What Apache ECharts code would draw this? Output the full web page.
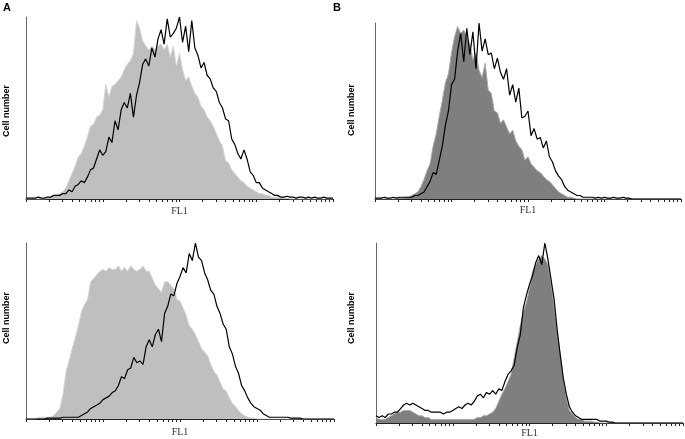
<!DOCTYPE html>
<html>
<head>
<meta charset="utf-8">
<script src="https://cdn.jsdelivr.net/npm/echarts@6/dist/echarts.min.js"></script>
<style>
html,body{margin:0;padding:0;background:#fff;}
#chart{width:685px;height:439px;}
</style>
</head>
<body>
<div id="chart"></div>
<script type="text/javascript">
// FL1 histograms, 101 bins over 4 log decades, counts scaled so panel max = 100
var aTopGray = [0,0,0,0,0,0,0,0.5,1,2,
  2,3,4,6,10,14,18,23,25,29,
  34,40,41,45,46,49,63,56,62,63,
  65,67,71,74,76,80,98,94,87,84,
  82,84,82,84,85,82,85,78,84,73,
  80,71,65,67,62,58,56,51,49,45,
  43,40,36,32,29,21,20,16,14,12,
  10,9,7,6,5,4,3,3,2,2,
  1,1,1,1,0.5,0.5,0,0,0,0,
  0,0,0,0,0,0,0,0,0,0,0];
var aTopLine = [0.5,0.5,0.5,0.5,1,0.5,0.5,1,1,2,
  2,2,3,3,5,4,7,8,10,9,
  12,16,17,22,27,24,26,34,31,43,
  38,49,53,50,58,45,57,64,74,77,
  73,83,78,88,93,85,99,89,91,94,
  100,86,95,81,98,83,79,72,75,68,
  66,61,59,53,50,44,43,33,30,25,
  22,27,22,15,13,9,9,6,5,4,
  3,2,2,1,1,1.5,1,1,0.5,1,
  1,0.5,1,0.5,1,0.5,0.5,1,0.5,0.5,0.5];
var bTopGray = [0,0,0,0,0,0,0,0,0.5,0.5,
  1,1,2,3,4,7,11,16,20,30,
  37,47,56,66,71,83,92,98,94,96,
  92,88,79,83,73,69,77,62,60,50,
  49,43,45,41,37,39,33,30,28,22,
  24,20,18,16,15,13,11,10,8,6,
  4,3,2,1,1,0.5,0,0,0,0,
  0,0,0,0,0,0,0,0,0,0,
  0,0,0,0,0,0,0,0,0,0,
  0,0,0,0,0,0,0,0,0,0,0];
var bTopLine = [0.5,0.5,0.5,1,0.5,0.5,1,0.5,1,1,
  1,1,1,2,2,3,4,7,10,15,
  14,22,30,42,50,65,68,84,94,78,
  97,82,95,74,100,84,91,82,83,74,
  80,72,68,74,59,65,55,63,46,47,
  50,36,40,34,35,29,33,24,21,16,
  13,11,7,5,4,3,2,2,1,1,
  1,1,0.5,1,0.5,1,0.5,0.5,1,0.5,
  0.5,1,0.5,0.5,0,0,0,0,0,0,
  0,0,0,0,0,0,0,0,0,0,0];
var aBotGray = [0,0,0,0,1,1,1,1,1,2,
  4,6,14,27,33,40,46,53,61,65,
  68,78,80,82,84,85,84,86,85,85,
  87,84,86,84,87,85,84,85,87,84,
  84,80,76,74,72,78,78,76,74,68,
  67,63,59,53,51,48,44,40,38,36,
  31,27,25,21,17,16,12,9,7,5,
  3,2,1,0.5,0.5,0,0,0,0,0,
  0,0,0,0,0,0,0,0,0,0,
  0,0,0,0,0,0,0,0,0,0,0];
var aBotLine = [0,0,0,0,0,0,0,0.5,0.5,0.5,
  0.5,0.5,1,1,1,1,1,1,2,3,
  4,6,7,8,9,11,12,13,15,16,
  19,24,23,28,29,35,32,33,31,41,
  45,41,48,51,44,60,64,71,70,77,
  81,86,83,94,90,100,92,90,83,79,
  73,71,64,60,54,51,41,37,30,26,
  19,16,12,9,7,6,5,3,2,1,
  1,1,1,1,1,1,0.5,0.5,0.5,0.5,
  0,0,0,0,0,0,0,0,0,0,0];
var bBotGray = [3,2,2,2,3,4,5,6,6,7,
  7,7,6,5,4,4,3,3,2,2,
  2,2,2,2,2,2,2,2,2,2,
  2,2,2,3,3,4,4,5,6,8,
  12,16,19,23,27,36,45,54,62,67,
  75,84,88,91,93,91,88,78,65,51,
  38,25,14,7,5,3,2,2,1,1,
  1,0.5,0.5,0,0,0,0,0,0,0,
  0,0,0,0,0,0,0,0,0,0,
  0,0,0,0,0,0,0,0,0,0,0];
var bBotLine = [4,3,4,3,5,5,6,6,8,10,
  11,10,11,10,9,8,7,7,6,6,
  6,6,5,6,6,7,8,9,8,10,
  11,10,12,15,16,14,17,16,18,16,
  19,18,23,27,29,32,42,49,64,71,
  77,82,89,93,88,100,91,80,69,52,
  38,25,16,9,6,4,3,2,2,2,
  2,2,2,1,1,1,0.5,0.5,0,0,
  0,0,0,0,0,0,0,0,0,0,
  0,0,0,0,0,0,0,0,0,0,0];

// log decade positions of the bins and of the axis ticks (log10 units)
var fl1Bins = [];
for (var i = 0; i <= 100; i++) fl1Bins.push(+(i * 0.04).toFixed(2));
var fl1Ticks = [];
for (var d = 0; d < 4; d++) {
  for (var k = 1; k < 10; k++) fl1Ticks.push(d + Math.log10(k));
}
fl1Ticks.push(4);

function pairs(values) {
  return values.map(function (v, i) { return [fl1Bins[i], v]; });
}

var panels = [
  {grid: {left: 26, top: 17, width: 307, height: 182}, gray: aTopGray, line: aTopLine, fill: '#bfbfbf', edge: '#d6d6d6', gap: 7},
  {grid: {left: 375, top: 23, width: 306, height: 176}, gray: bTopGray, line: bTopLine, fill: '#7f7f7f', edge: '#a8a8a8', gap: 6},
  {grid: {left: 26, top: 243, width: 308, height: 176}, gray: aBotGray, line: aBotLine, fill: '#bfbfbf', edge: '#d6d6d6', gap: 8},
  {grid: {left: 376, top: 243, width: 307, height: 180}, gray: bBotGray, line: bBotLine, fill: '#7f7f7f', edge: '#a8a8a8', gap: 5}
];

var grids = [], xAxes = [], yAxes = [], series = [];
panels.forEach(function (p, n) {
  grids.push(p.grid);
  xAxes.push({
    gridIndex: n, type: 'value', min: 0, max: 4,
    name: 'FL1', nameLocation: 'middle', nameGap: p.gap,
    nameTextStyle: {fontFamily: 'Liberation Serif', fontSize: 10, color: '#333', verticalAlign: 'top'},
    axisLine: {show: true, lineStyle: {color: '#222', width: 1}},
    axisTick: {show: true, length: 3, customValues: fl1Ticks, lineStyle: {color: '#222'}},
    axisLabel: {show: false},
    splitLine: {show: false}
  });
  yAxes.push({
    gridIndex: n, type: 'value', min: 0, max: 100,
    axisLine: {show: true, lineStyle: {color: '#666', width: 1}},
    axisTick: {show: false},
    axisLabel: {show: false},
    splitLine: {show: false}
  });
  series.push({
    type: 'line', xAxisIndex: n, yAxisIndex: n, data: pairs(p.gray),
    symbol: 'none', silent: true, z: 1,
    lineStyle: {color: p.edge, width: 1},
    areaStyle: {color: p.fill, opacity: 1}
  });
  series.push({
    type: 'line', xAxisIndex: n, yAxisIndex: n, data: pairs(p.line),
    symbol: 'none', silent: true, z: 2,
    lineStyle: {color: '#000', width: 1.2}
  });
});

function yName(x, y) {
  return {
    type: 'text', x: x, y: y, rotation: Math.PI / 2,
    style: {text: 'Cell number', font: 'bold 9px "Liberation Sans"', fill: '#000', align: 'center', verticalAlign: 'middle'}
  };
}

var myChart = echarts.init(document.getElementById('chart'));
myChart.setOption({
  animation: false,
  backgroundColor: '#fff',
  grid: grids,
  xAxis: xAxes,
  yAxis: yAxes,
  series: series,
  graphic: [
    {type: 'text', x: 3, y: 2, style: {text: 'A', font: 'bold 11px "Liberation Sans"', fill: '#000'}},
    {type: 'text', x: 333, y: 2, style: {text: 'B', font: 'bold 11px "Liberation Sans"', fill: '#000'}},
    yName(7, 111), yName(352, 110), yName(7, 318), yName(352, 318)
  ]
});
</script>
</body>
</html>
